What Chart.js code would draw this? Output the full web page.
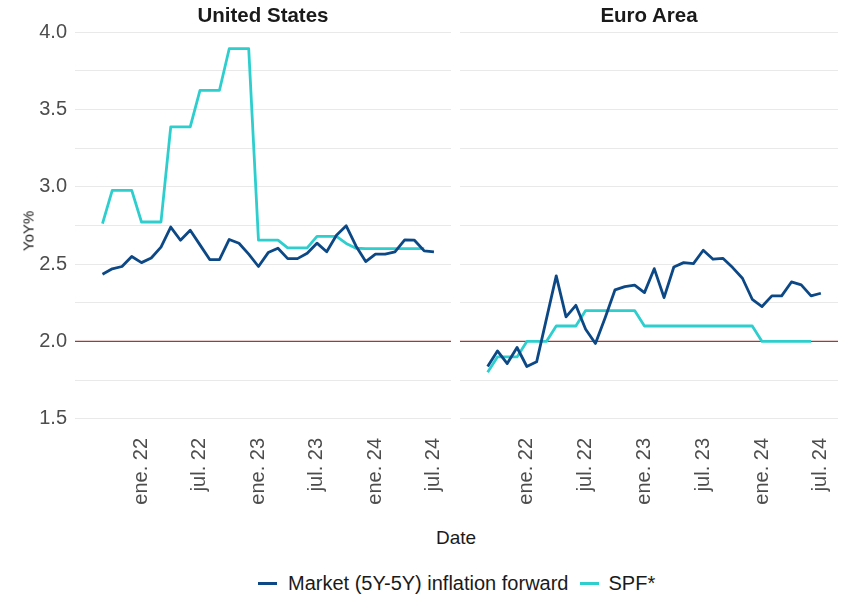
<!DOCTYPE html>
<html><head><meta charset="utf-8">
<script src="https://cdn.jsdelivr.net/npm/chart.js@4.4.1/dist/chart.umd.min.js"></script>
<style>
html,body{margin:0;padding:0;background:#fff;}
body{width:842px;height:596px;overflow:hidden;position:relative;font-family:"Liberation Sans",Arial,sans-serif;}
.abs{position:absolute;white-space:nowrap;line-height:1;}
canvas{position:absolute;top:0;}
</style></head><body>
<canvas id="cA" width="460" height="520" style="left:0"></canvas>
<canvas id="cB" width="387" height="520" style="left:455px"></canvas>
<div class="abs" style="left:263px;top:5px;transform:translateX(-50%);font-weight:bold;font-size:20.5px;color:#1a1a1a">United States</div>
<div class="abs" style="left:649px;top:5px;transform:translateX(-50%);font-weight:bold;font-size:20.5px;color:#1a1a1a">Euro Area</div>
<div class="abs" style="left:28px;top:231px;transform:translate(-50%,-50%) rotate(-90deg);font-size:15px;font-weight:normal;color:#1a1a1a">YoY%</div>
<div class="abs" style="left:456px;top:528px;transform:translateX(-50%);font-size:19px;color:#1a1a1a">Date</div>
<div class="abs" style="left:258px;top:573px;font-size:20px;color:#1a1a1a;display:flex;align-items:center">
  <span style="display:inline-block;width:19px;height:3px;background:#0b4885;margin-right:11px"></span>
  <span>Market (5Y-5Y) inflation forward</span>
  <span style="display:inline-block;width:19px;height:3px;background:#2ecece;margin-left:11px;margin-right:10px"></span>
  <span>SPF*</span>
</div>
<script>
// ---- data ----
const dates = ['2021-09','2021-10','2021-11','2021-12','2022-01','2022-02','2022-03','2022-04','2022-05','2022-06','2022-07','2022-08','2022-09','2022-10','2022-11','2022-12','2023-01','2023-02','2023-03','2023-04','2023-05','2023-06','2023-07','2023-08','2023-09','2023-10','2023-11','2023-12','2024-01','2024-02','2024-03','2024-04','2024-05','2024-06','2024-07'];
const usMarket = [2.435,2.47,2.485,2.55,2.51,2.54,2.61,2.74,2.655,2.72,2.625,2.53,2.53,2.66,2.635,2.565,2.485,2.575,2.603,2.536,2.536,2.571,2.636,2.58,2.687,2.748,2.618,2.517,2.565,2.565,2.58,2.657,2.655,2.586,2.58];
const usSPF = [2.763,2.978,2.978,2.978,2.773,2.773,2.773,3.388,3.388,3.388,3.625,3.625,3.625,3.894,3.894,3.894,2.655,2.655,2.655,2.605,2.605,2.605,2.68,2.68,2.68,2.634,2.603,2.60,2.60,2.60,2.60,2.60,2.60,2.60];
const euMarket = [1.838,1.939,1.857,1.961,1.838,1.868,2.146,2.424,2.159,2.234,2.079,1.987,2.155,2.334,2.355,2.364,2.316,2.471,2.284,2.482,2.51,2.504,2.59,2.532,2.538,2.478,2.409,2.273,2.226,2.295,2.295,2.385,2.366,2.295,2.312];
const euSPF = [1.8,1.9,1.9,1.9,2.0,2.0,2.0,2.1,2.1,2.1,2.2,2.2,2.2,2.2,2.2,2.2,2.1,2.1,2.1,2.1,2.1,2.1,2.1,2.1,2.1,2.1,2.1,2.1,2.0,2.0,2.0,2.0,2.0,2.0];
const tickDates = ['2022-01','2022-07','2023-01','2023-07','2024-01','2024-07'];
const tickLabels = ['ene. 22','jul. 22','ene. 23','jul. 23','ene. 24','jul. 24'];
const yTicks = [1.5,1.75,2.0,2.25,2.5,2.75,3.0,3.25,3.5,3.75,4.0];
const targetLevel = 2.0;
const seriesNames = ['Market (5Y-5Y) inflation forward','SPF*'];

// ---- helpers ----
const monthIndex = d => { const [y,m] = d.split('-').map(Number); return (y-2022)*12 + (m-1); };
const toPts = vals => vals.map((v,i)=>({x: monthIndex(dates[i]), y: v}));
const xMin = -6.82, xMax = 31.75, yMin = 1.453, yMax = 4.041;
const FONT = '"Liberation Sans", Arial, sans-serif';
const C_MARKET = '#0b4885', C_SPF = '#2ecece', C_TARGET = '#a33a3a';

const targetPlugin = {
  id:'target',
  beforeDatasetsDraw(chart){
    const {ctx, chartArea:a, scales:{y}} = chart;
    const py = y.getPixelForValue(targetLevel);
    ctx.save(); ctx.strokeStyle = C_TARGET; ctx.lineWidth = 1.2;
    ctx.beginPath(); ctx.moveTo(a.left, py); ctx.lineTo(a.right, py); ctx.stroke(); ctx.restore();
  }
};

function makeChart(id, market, spf, showY){
  return new Chart(document.getElementById(id), {
    type:'line',
    data:{datasets:[
      {label:seriesNames[0], data:toPts(market), borderColor:C_MARKET, borderWidth:2.8, pointRadius:0, fill:false, order:1},
      {label:seriesNames[1], data:toPts(spf), borderColor:C_SPF, borderWidth:2.8, pointRadius:0, fill:false, order:2}
    ]},
    options:{
      responsive:false, animation:false, events:[],
      layout:{padding:{left: showY?0:5, right: showY?9:4, top:26, bottom:0}},
      plugins:{legend:{display:false}, tooltip:{enabled:false}},
      elements:{line:{borderJoinStyle:'round', tension:0}},
      scales:{
        x:{type:'linear', min:xMin, max:xMax,
          grid:{display:false, drawTicks:false}, border:{display:false},
          afterBuildTicks: s => { s.ticks = tickDates.map(d=>({value:monthIndex(d)})); },
          afterFit: s => { s.height = 94; s.paddingLeft = 0; s.paddingRight = 0; },
          ticks:{autoSkip:false, maxRotation:90, minRotation:90, padding:12, color:'#4d4d4d',
                 font:{family:FONT, size:20}, callback:(v,i)=>tickLabels[i]}
        },
        y:{type:'linear', min:yMin, max:yMax,
          grid:{color:'#e9e9e9', lineWidth:1, drawTicks:false}, border:{display:false},
          afterBuildTicks: s => { s.ticks = yTicks.map(v=>({value:v})); },
          afterFit: s => { s.width = showY?75:0; },
          ticks:{display:showY, padding:8, color:'#4d4d4d', font:{family:FONT, size:20},
                 callback: v => (Math.abs(v*2-Math.round(v*2))<1e-6 ? v.toFixed(1) : '')}
        }
      }
    },
    plugins:[targetPlugin]
  });
}
makeChart('cA', usMarket, usSPF, true);
makeChart('cB', euMarket, euSPF, false);
</script>
</body></html>
